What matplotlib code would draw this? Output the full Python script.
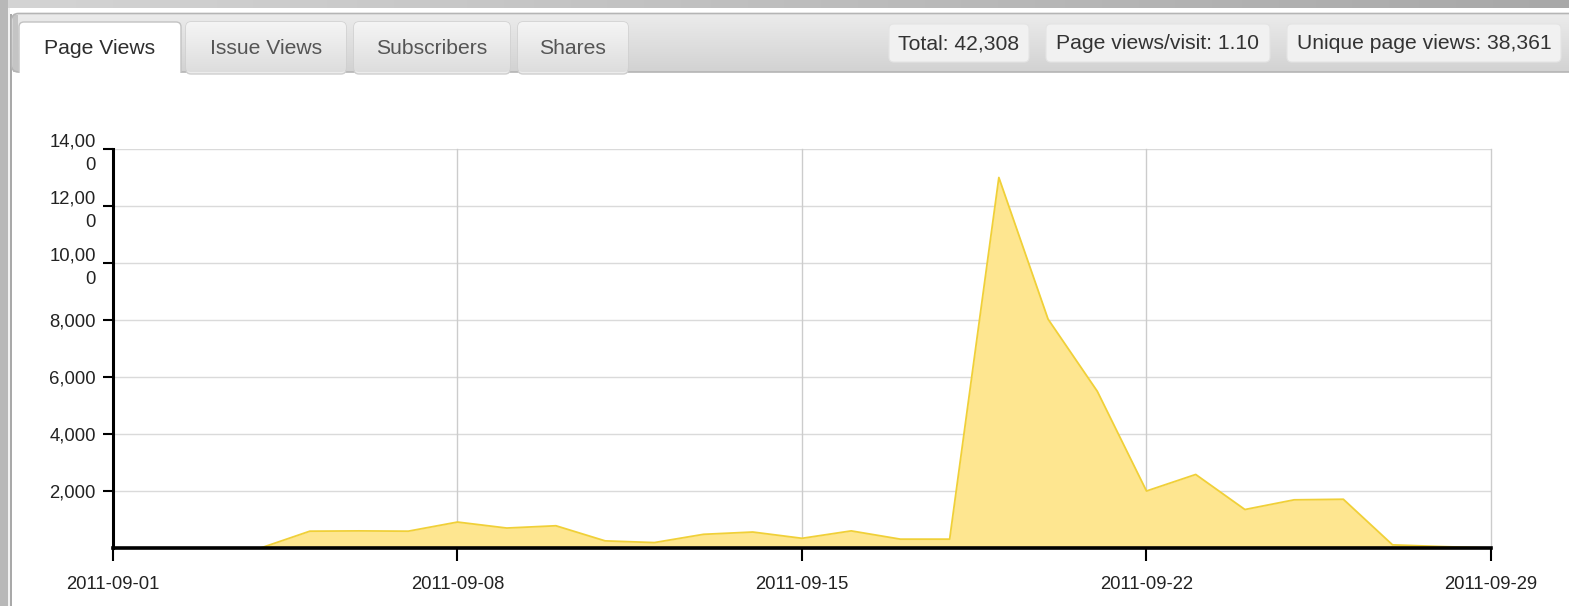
import numpy as np
import pandas as pd
import matplotlib
matplotlib.use("Agg")
import matplotlib.pyplot as plt
from matplotlib.patches import Rectangle, FancyBboxPatch

# ---------------- data ----------------
dates = pd.date_range("2011-09-01", "2011-09-29", freq="D")
page_views = [0, 0, 0, 0, 590, 600, 590, 910, 700, 780,
              250, 190, 480, 560, 340, 600, 310, 310, 13000, 8030,
              5500, 2000, 2580, 1350, 1690, 1710, 110, 50, 0]
x_ticks = ["2011-09-01", "2011-09-08", "2011-09-15", "2011-09-22", "2011-09-29"]
y_ticks = [2000, 4000, 6000, 8000, 10000, 12000, 14000]
y_tick_labels = ["2,000", "4,000", "6,000", "8,000", "10,00\n0", "12,00\n0", "14,00\n0"]
tabs = ["Page Views", "Issue Views", "Subscribers", "Shares"]
stats = ["Total: 42,308", "Page views/visit: 1.10", "Unique page views: 38,361"]

FONT = "Liberation Sans"
plt.rcParams["font.family"] = [FONT, "DejaVu Sans"]

W, H = 1569, 606
fig = plt.figure(figsize=(W / 100, H / 100), dpi=100)
fig.patch.set_facecolor("white")

# ---------------- UI frame (pixel coordinates) ----------------
bg = fig.add_axes([0, 0, 1, 1])
bg.set_xlim(0, W)
bg.set_ylim(H, 0)
bg.axis("off")
bg.set_zorder(0)

def hgrad(ax, x0, x1, y0, y1, c0, c1, clip=None, z=1):
    g = np.linspace(0, 1, 256).reshape(1, -1)
    cmap = matplotlib.colors.LinearSegmentedColormap.from_list("g", [c0, c1])
    im = ax.imshow(g, extent=(x0, x1, y1, y0), cmap=cmap, aspect="auto", zorder=z,
                   interpolation="bilinear")
    if clip is not None:
        im.set_clip_path(clip)
    return im

def vgrad(ax, x0, x1, y0, y1, c0, c1, clip=None, z=1):
    g = np.linspace(0, 1, 256).reshape(-1, 1)
    cmap = matplotlib.colors.LinearSegmentedColormap.from_list("g", [c0, c1])
    im = ax.imshow(g, extent=(x0, x1, y1, y0), cmap=cmap, aspect="auto", zorder=z,
                   interpolation="bilinear", origin="upper")
    if clip is not None:
        im.set_clip_path(clip)
    return im

# top strip and left strip
hgrad(bg, 0, W, 0, 8, "#d4d4d4", "#a8a8a8", z=1)
bg.add_patch(Rectangle((0, 0), 8, H, facecolor="#b8b8b8", edgecolor="none", zorder=2))
bg.add_patch(Rectangle((8, 8), 2, H, facecolor="#f2f2f2", edgecolor="none", zorder=2))
bg.add_patch(Rectangle((10, 14), 1.5, H, facecolor="#a9a9a9", edgecolor="none", zorder=2))

# tab bar
bar = FancyBboxPatch((11.5, 13.5), W + 20, 58.5, boxstyle="round,pad=0,rounding_size=7",
                     facecolor="none", edgecolor="#b5b5b5", linewidth=1.2, zorder=4)
bg.add_patch(bar)
clipbar = FancyBboxPatch((11.5, 13.5), W + 20, 58.5, boxstyle="round,pad=0,rounding_size=7",
                         facecolor="none", edgecolor="none", transform=bg.transData)
bg.add_patch(clipbar)
vgrad(bg, 11, W, 13, 72, "#ececec", "#d2d2d2", clip=clipbar, z=3)
bg.add_patch(Rectangle((13, 15), 5, 57, facecolor="#c4c4c4", edgecolor="none", zorder=3.5))

# inactive tabs
tab_x = [(19, 181), (186, 346), (354, 510), (518, 628)]
for i, (x0, x1) in enumerate(tab_x):
    if i == 0:
        continue
    p = FancyBboxPatch((x0, 22), x1 - x0, 52, boxstyle="round,pad=0,rounding_size=5",
                       facecolor="#ececec", edgecolor="#cfcfcf", linewidth=1.0, zorder=5)
    bg.add_patch(p)
    cp = FancyBboxPatch((x0, 22), x1 - x0, 50, boxstyle="round,pad=0,rounding_size=5",
                        facecolor="none", edgecolor="none")
    bg.add_patch(cp)
    vgrad(bg, x0, x1, 22, 72, "#f5f5f5", "#dddddd", clip=cp, z=5.5)

# active tab (clipped so it merges with the white panel)
x0, x1 = tab_x[0]
clip_active = Rectangle((0, 0), W, 72.6, facecolor="none", edgecolor="none")
bg.add_patch(clip_active)
act = FancyBboxPatch((x0, 22), x1 - x0, 70, boxstyle="round,pad=0,rounding_size=5",
                     facecolor="white", edgecolor="#c2c2c2", linewidth=1.0, zorder=6)
bg.add_patch(act)
act.set_clip_path(clip_active)
bg.add_patch(Rectangle((x0 + 0.8, 70), x1 - x0 - 1.6, 4, facecolor="white",
                       edgecolor="none", zorder=6.5))

for i, ((x0, x1), t) in enumerate(zip(tab_x, tabs)):
    bg.text((x0 + x1) / 2, 48, t, ha="center", va="center", fontsize=15.2,
            color="#2e2e2e" if i == 0 else "#555555", zorder=7, family=FONT)

# stats boxes
box_x = [(889, 1029), (1046, 1270), (1287, 1561)]
for (x0, x1), t in zip(box_x, stats):
    bg.add_patch(FancyBboxPatch((x0, 24), x1 - x0, 38, boxstyle="round,pad=0,rounding_size=5",
                                facecolor="#f1f1f1", edgecolor="#e4e4e4", linewidth=0.8, zorder=6))
    bg.text((x0 + x1) / 2, 43.5, t, ha="center", va="center", fontsize=15.2,
            color="#333333", zorder=7, family=FONT)

# ---------------- chart ----------------
L, R, T, B = 113, 1491, 149, 548
ax = fig.add_axes([L / W, (H - B) / H, (R - L) / W, (B - T) / H])
ax.set_zorder(2)
ax.patch.set_alpha(0)

ax.fill_between(dates, page_views, 0, color="#fee690", linewidth=0, zorder=2)
ax.plot(dates, page_views, color="#f0d038", linewidth=1.3, zorder=3)

ax.set_xlim(pd.Timestamp(x_ticks[0]), pd.Timestamp(x_ticks[-1]))
ax.set_ylim(0, 14000)

ax.set_yticks(y_ticks)
ax.set_yticklabels(y_tick_labels, fontsize=13.3, color="#222222", family=FONT,
                   linespacing=1.45, multialignment="right")
xt = [pd.Timestamp(d) for d in x_ticks]
ax.set_xticks(xt)
ax.set_xticklabels(x_ticks, fontsize=13.3, color="#222222", family=FONT)

for y in y_ticks:
    ax.axhline(y, color="#dadada", linewidth=1.0, zorder=1)
for d in xt[1:]:
    ax.axvline(d, color="#cccccc", linewidth=1.0, zorder=1, clip_on=False)

for s in ["top", "right"]:
    ax.spines[s].set_visible(False)
ax.spines["left"].set_linewidth(2.2)
ax.spines["bottom"].set_linewidth(2.6)
for s in ["left", "bottom"]:
    ax.spines[s].set_color("black")
    ax.spines[s].set_zorder(5)

ax.tick_params(axis="y", direction="out", length=7.5, width=1.5, pad=5, colors="black",
               labelcolor="#222222")
ax.tick_params(axis="x", direction="out", length=9, width=1.5, pad=11, colors="black",
               labelcolor="#222222")

fig.savefig("out.png", dpi=100)
